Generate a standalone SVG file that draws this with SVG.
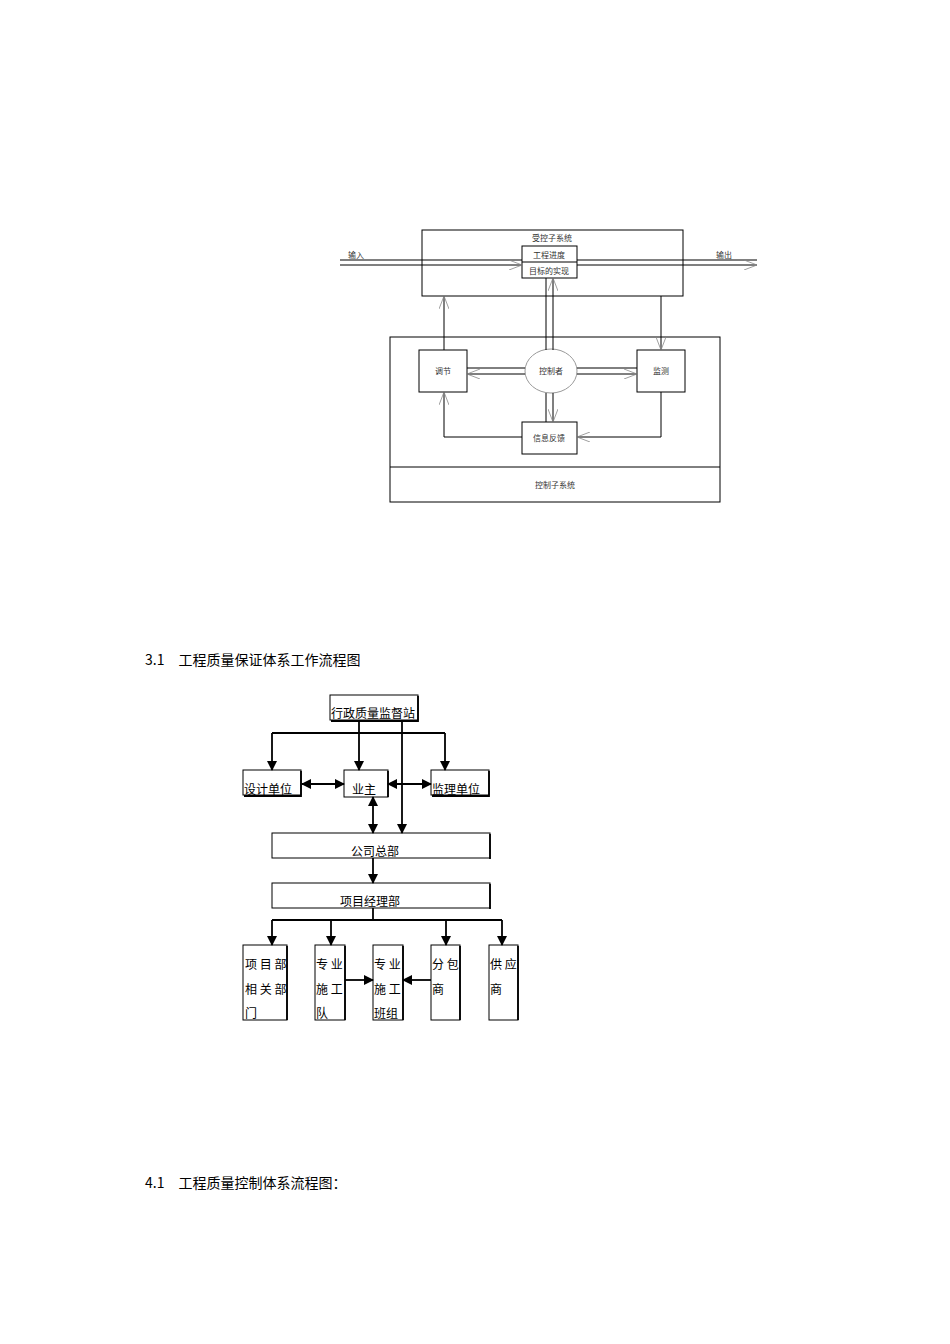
<svg xmlns="http://www.w3.org/2000/svg" width="950" height="1344" viewBox="0 0 950 1344">
<defs>
<marker id="open" markerWidth="14" markerHeight="10" refX="13" refY="5" orient="auto" markerUnits="userSpaceOnUse"><path d="M0,0 L13,5 L0,10" fill="none" stroke="#888" stroke-width="0.8"/></marker>
<marker id="fill" markerWidth="10" markerHeight="10" refX="9" refY="5" orient="auto" markerUnits="userSpaceOnUse"><path d="M0,0 L10,5 L0,10 Z" fill="#000"/></marker>
<marker id="fillS" markerWidth="10" markerHeight="10" refX="1" refY="5" orient="auto" markerUnits="userSpaceOnUse"><path d="M10,0 L0,5 L10,10 Z" fill="#000"/></marker>
</defs>
<style>
.b{fill:#fff;stroke:#000;stroke-width:1}
.l{fill:none;stroke:#000;stroke-width:1}
.c{fill:none;stroke:#000;stroke-width:1.8}
.s{font-family:"Noto Sans CJK SC","Liberation Serif",serif;font-size:8px;fill:#333}
.m{font-family:"Noto Sans CJK SC","Liberation Serif",serif;font-size:12px;fill:#000}
.h{font-family:"Noto Sans CJK SC","Liberation Serif",serif;font-size:14px;fill:#000}
</style>
<rect width="950" height="1344" fill="#fff"/>
<g id="top">
<g id="controlled"><rect class="b" x="422" y="230" width="261" height="66"/><text class="s" x="552" y="241" text-anchor="middle">受控子系统</text></g>
<g id="target"><rect class="b" x="522" y="246" width="55" height="32"/><line class="l" x1="522" y1="262" x2="577" y2="262"/><text class="s" x="549" y="258" text-anchor="middle">工程进度</text><text class="s" x="549" y="274" text-anchor="middle">目标的实现</text></g>
<g id="ctrlsys"><rect class="b" x="390" y="337" width="330" height="165"/><line class="l" x1="390" y1="467" x2="720" y2="467"/><text class="s" x="555" y="488" text-anchor="middle">控制子系统</text></g>
<g id="adjust"><rect class="b" x="419" y="350" width="48" height="42"/><text class="s" x="443" y="374" text-anchor="middle">调节</text></g>
<g id="monitor"><rect class="b" x="637" y="350" width="48" height="42"/><text class="s" x="661" y="374" text-anchor="middle">监测</text></g>
<g id="controller"><ellipse cx="551" cy="371" rx="26" ry="22" fill="#fff" stroke="#999"/><text class="s" x="551" y="374" text-anchor="middle">控制者</text></g>
<g id="feedback"><rect class="b" x="522" y="422" width="55" height="32"/><text class="s" x="549" y="441" text-anchor="middle">信息反馈</text></g>
<text class="s" x="348" y="258">输入</text>
<text class="s" x="716" y="258">输出</text>
<g id="top-connectors">
<line class="l" x1="340" y1="260" x2="522" y2="260"/><line class="l" x1="340" y1="265" x2="522" y2="265" marker-end="url(#open)"/>
<line class="l" x1="577" y1="260" x2="757" y2="260"/><line class="l" x1="577" y1="265" x2="757" y2="265" marker-end="url(#open)"/>
<line class="l" x1="546" y1="350" x2="546" y2="278"/><line class="l" x1="553" y1="350" x2="553" y2="278" marker-end="url(#open)"/>
<line class="l" x1="546" y1="393" x2="546" y2="422"/><line class="l" x1="553" y1="393" x2="553" y2="422" marker-end="url(#open)"/>
<line class="l" x1="525" y1="368" x2="467" y2="368"/><line class="l" x1="525" y1="374" x2="467" y2="374" marker-end="url(#open)"/>
<line class="l" x1="577" y1="368" x2="637" y2="368"/><line class="l" x1="577" y1="374" x2="637" y2="374" marker-end="url(#open)"/>
<line class="l" x1="444" y1="350" x2="444" y2="296" marker-end="url(#open)"/>
<line class="l" x1="661" y1="296" x2="661" y2="350" marker-end="url(#open)"/>
<polyline class="l" points="661,392 661,437 577,437" marker-end="url(#open)"/>
<polyline class="l" points="522,437 444,437 444,392" marker-end="url(#open)"/>
</g>
</g>
<text class="h" x="145" y="665">3.1　工程质量保证体系工作流程图</text>
<g id="flow">
<g id="n1"><rect class="b" x="330" y="695" width="88" height="25"/><path class="c" d="M418,696 V721 H331"/><text class="m" x="331" y="718">行政质量监督站</text></g>
<g id="n2"><rect class="b" x="243" y="770" width="58" height="25"/><path class="c" d="M301,771 V796 H244"/><text class="m" x="244" y="794">设计单位</text></g>
<g id="n3"><rect class="b" x="344" y="770" width="44" height="27"/><path class="c" d="M388,771 V797"/><text class="m" x="352" y="794">业主</text></g>
<g id="n4"><rect class="b" x="431" y="770" width="58" height="25"/><path class="c" d="M489,771 V796 H432"/><text class="m" x="432" y="794">监理单位</text></g>
<g id="n5"><rect class="b" x="272" y="833" width="218" height="25"/><path class="c" d="M490,834 V859"/><text class="m" x="351" y="856">公司总部</text></g>
<g id="n6"><rect class="b" x="272" y="883" width="218" height="25"/><path class="c" d="M490,884 V909"/><text class="m" x="340" y="906">项目经理部</text></g>
<g id="n7"><rect class="b" x="243" y="945" width="44" height="75"/><path class="c" d="M287,946 V1020"/><text class="m" x="245" y="969">项 目 部</text><text class="m" x="245" y="994">相 关 部</text><text class="m" x="245" y="1018">门</text></g>
<g id="n8"><rect class="b" x="315" y="945" width="30" height="75"/><path class="c" d="M345,946 V1020"/><text class="m" x="316" y="969">专 业</text><text class="m" x="316" y="994">施 工</text><text class="m" x="316" y="1018">队</text></g>
<g id="n9"><rect class="b" x="373" y="945" width="30" height="75"/><path class="c" d="M403,946 V1020"/><text class="m" x="374" y="969">专 业</text><text class="m" x="374" y="994">施 工</text><text class="m" x="374" y="1018">班组</text></g>
<g id="n10"><rect class="b" x="431" y="945" width="29" height="75"/><path class="c" d="M460,946 V1020"/><text class="m" x="432" y="969">分 包</text><text class="m" x="432" y="994">商</text></g>
<g id="n11"><rect class="b" x="489" y="945" width="29" height="75"/><path class="c" d="M518,946 V1020"/><text class="m" x="490" y="969">供 应</text><text class="m" x="490" y="994">商</text></g>
<g id="flow-connectors">
<line class="c" x1="272" y1="733" x2="445" y2="733"/>
<line class="c" x1="272" y1="733" x2="272" y2="770" marker-end="url(#fill)"/>
<line class="c" x1="359" y1="720" x2="359" y2="770" marker-end="url(#fill)"/>
<line class="c" x1="445" y1="733" x2="445" y2="770" marker-end="url(#fill)"/>
<line class="c" x1="402" y1="720" x2="402" y2="833" marker-end="url(#fill)"/>
<line class="c" x1="302" y1="784" x2="344" y2="784" marker-start="url(#fillS)" marker-end="url(#fill)"/>
<line class="c" x1="388" y1="784" x2="431" y2="784" marker-start="url(#fillS)" marker-end="url(#fill)"/>
<line class="c" x1="373" y1="797" x2="373" y2="833" marker-start="url(#fillS)" marker-end="url(#fill)"/>
<line class="c" x1="373" y1="858" x2="373" y2="883" marker-end="url(#fill)"/>
<line class="c" x1="373" y1="908" x2="373" y2="920"/>
<line class="c" x1="272" y1="920" x2="502" y2="920"/>
<line class="c" x1="272" y1="920" x2="272" y2="945" marker-end="url(#fill)"/>
<line class="c" x1="331" y1="920" x2="331" y2="945" marker-end="url(#fill)"/>
<line class="c" x1="446" y1="920" x2="446" y2="945" marker-end="url(#fill)"/>
<line class="c" x1="502" y1="920" x2="502" y2="945" marker-end="url(#fill)"/>
<line class="c" x1="345" y1="980" x2="373" y2="980" marker-end="url(#fill)"/>
<line class="c" x1="431" y1="980" x2="403" y2="980" marker-end="url(#fill)"/>
</g>
</g>
<text class="h" x="145" y="1188">4.1　工程质量控制体系流程图：</text>
</svg>
